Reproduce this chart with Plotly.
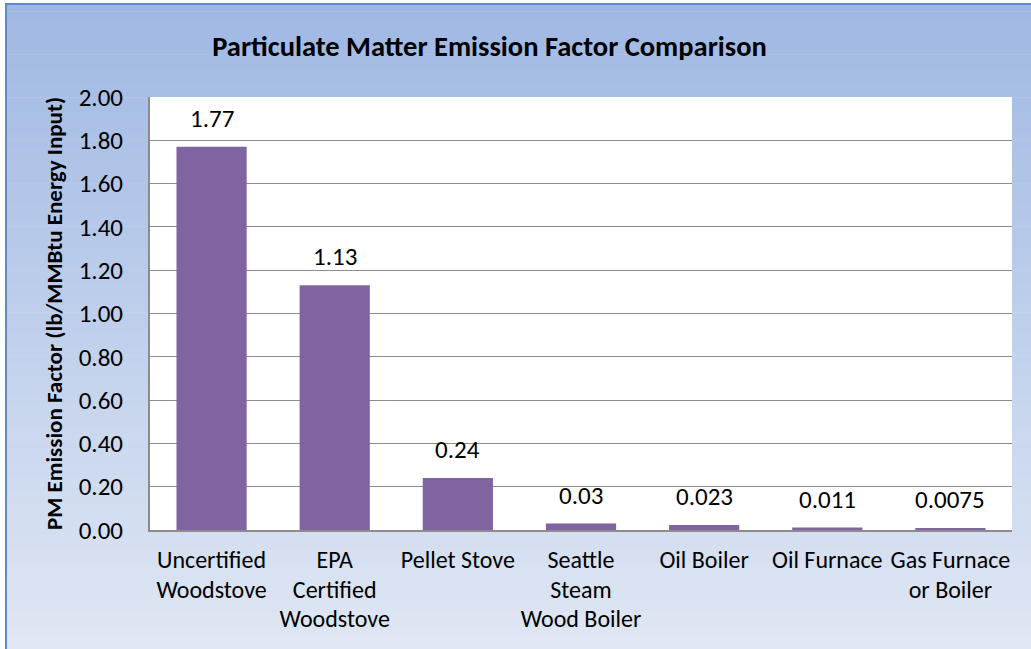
import plotly.graph_objects as go

# ---- data ----
categories = [
    ["Uncertified", "Woodstove"],
    ["EPA", "Certified", "Woodstove"],
    ["Pellet Stove"],
    ["Seattle", "Steam", "Wood Boiler"],
    ["Oil Boiler"],
    ["Oil Furnace"],
    ["Gas Furnace", "or Boiler"],
]
values = [1.77, 1.13, 0.24, 0.03, 0.023, 0.011, 0.0075]
value_labels = ["1.77", "1.13", "0.24", "0.03", "0.023", "0.011", "0.0075"]
y_ticks = [0.0, 0.2, 0.4, 0.6, 0.8, 1.0, 1.2, 1.4, 1.6, 1.8, 2.0]

FONT = "Calibri, Carlito, Lato, sans-serif"
W, H = 1031, 649
ML, MR, MT, MB = 150, 19, 97, 119
PW, PH = W - ML - MR, H - MT - MB

keys = [" ".join(c) for c in categories]
ticktext = ["<br>".join(f"<span style='font-size:24px'>{ln}</span>" for ln in c) for c in categories]

fig = go.Figure()
fig.add_trace(go.Bar(
    x=keys, y=values,
    marker=dict(color="#8064a2", line=dict(width=0)),
    width=0.57,
    hoverinfo="x+y",
))

# data labels
for k, v, t in zip(keys, values, value_labels):
    fig.add_annotation(x=k, y=v, text=t, showarrow=False, xref="x", yref="y",
                       yanchor="bottom", yshift=11,
                       font=dict(family=FONT, size=25, color="#000000"))

def px2x(px):
    return (px - ML) / PW

def py2y(py):
    return (H - MB - py) / PH

top_c = (159, 184, 227)
bot_c = (224, 231, 244)
y_top, y_bot = 4, 649
n = 90
shapes = []
for i in range(n):
    a = y_top + (y_bot - y_top) * i / n
    b = y_top + (y_bot - y_top) * (i + 1) / n
    f = (i + 0.5) / n
    c = tuple(round(top_c[j] + (bot_c[j] - top_c[j]) * f) for j in range(3))
    shapes.append(dict(type="rect", xref="paper", yref="paper", layer="below",
                       x0=px2x(6), x1=px2x(1040), y0=py2y(a), y1=py2y(b + 0.6),
                       fillcolor=f"rgb{c}", line=dict(width=0)))
shapes.append(dict(type="rect", xref="paper", yref="paper", layer="below",
                   x0=px2x(6), x1=px2x(1040), y0=py2y(660), y1=py2y(4),
                   fillcolor="rgba(0,0,0,0)", line=dict(color="#5b8bc8", width=2)))
shapes.append(dict(type="rect", xref="x domain", yref="y domain", layer="below",
                   x0=0, x1=1, y0=0, y1=1, fillcolor="#ffffff", line=dict(width=0)))

fig.update_layout(
    width=W, height=H,
    margin=dict(l=ML, r=MR, t=MT, b=MB, pad=0),
    paper_bgcolor="#ffffff",
    plot_bgcolor="rgba(0,0,0,0)",
    shapes=shapes,
    showlegend=False,
    bargap=0.43,
    font=dict(family=FONT, color="#000000"),
    title=dict(text="<b>Particulate Matter Emission Factor Comparison</b>",
               x=px2x(489.5), xref="paper", xanchor="center",
               y=1 - 46 / H, yref="container", yanchor="middle",
               font=dict(family=FONT, size=28.5, color="#000000")),
    xaxis=dict(
        tickmode="array", tickvals=keys, ticktext=ticktext,
        tickfont=dict(family=FONT, size=23, color="#000000"),
        showline=True, linecolor="#8c8c8c", linewidth=2,
        ticks="", showgrid=False, tickangle=0,
        ticklabelstandoff=8,
    ),
    yaxis=dict(
        range=[0, 2.0], tickmode="array", tickvals=y_ticks,
        tickformat=".2f",
        tickfont=dict(family=FONT, size=25, color="#000000"),
        showgrid=True, gridcolor="#8c8c8c", gridwidth=1,
        showline=True, linecolor="#8c8c8c", linewidth=2,
        zeroline=False, ticks="", ticklabelstandoff=20,
        title=dict(text="<b>PM Emission Factor (lb/MMBtu Energy Input)</b>",
                   font=dict(family=FONT, size=23, color="#000000"),
                   standoff=10),
    ),
)

fig.write_html("out.html", config={"displayModeBar": False},
               post_script="document.body.style.margin='0';")
